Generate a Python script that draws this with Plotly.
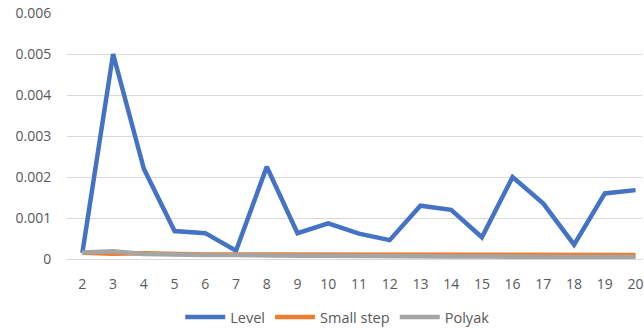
import plotly.graph_objects as go

iterations = list(range(2, 21))
level = [0.00015, 0.0050, 0.0022, 0.00068, 0.00063, 0.00020, 0.00225, 0.00063, 0.00087,
         0.00062, 0.00046, 0.00130, 0.00120, 0.00053, 0.00200, 0.00135, 0.00035, 0.00160, 0.00168]
small_step = [0.00015, 0.00013, 0.00014, 0.00012, 0.00011, 0.00011, 0.00011, 0.00011, 0.00011,
              0.00011, 0.00011, 0.00011, 0.00011, 0.00011, 0.00010, 0.00010, 0.00010, 0.00010, 0.00010]
polyak = [0.00016, 0.00019, 0.00012, 0.00010, 0.00010, 0.00010, 0.00008, 0.00008, 0.00008,
          0.00007, 0.00006, 0.00006, 0.00006, 0.00006, 0.00005, 0.00005, 0.00005, 0.00005, 0.00005]
y_ticks = [0, 0.001, 0.002, 0.003, 0.004, 0.005, 0.006]
y_tick_text = ["0", "0.001", "0.002", "0.003", "0.004", "0.005", "0.006"]

series = [
    ("Level", level, "#4472C4"),
    ("Small step", small_step, "#ED7D31"),
    ("Polyak", polyak, "#A5A5A5"),
]

fig = go.Figure()
for name, values, color in series:
    fig.add_trace(go.Scatter(
        x=iterations, y=values, name=name, mode="lines",
        line=dict(color=color, width=4.5),
    ))

font = dict(family="Open Sans, sans-serif", size=14, color="#595959")

fig.update_layout(
    width=644, height=333,
    margin=dict(l=67, r=0, t=13, b=72),
    paper_bgcolor="white", plot_bgcolor="white",
    font=font,
    showlegend=True,
    legend=dict(orientation="h", x=0.47, xanchor="center", y=-0.238, yanchor="middle",
                font=dict(family="Open Sans, sans-serif", size=14.5, color="#595959"),
                itemwidth=40, traceorder="normal"),
)
fig.update_xaxes(
    range=[1.5, 20.21], tickvals=iterations, ticktext=[str(v) for v in iterations],
    showgrid=False, zeroline=False, showline=False,
    ticks="outside", ticklen=12, tickcolor="rgba(0,0,0,0)",
    ticklabeloverflow="allow",
    tickfont=font,
)
fig.update_yaxes(
    range=[0, 0.006], tickvals=y_ticks, ticktext=y_tick_text,
    showgrid=True, gridcolor="#D9D9D9", gridwidth=1,
    zeroline=True, zerolinecolor="#D9D9D9", zerolinewidth=1,
    showline=False,
    ticks="outside", ticklen=12, tickcolor="rgba(0,0,0,0)",
    tickfont=font,
)

fig.write_html("out.html")
